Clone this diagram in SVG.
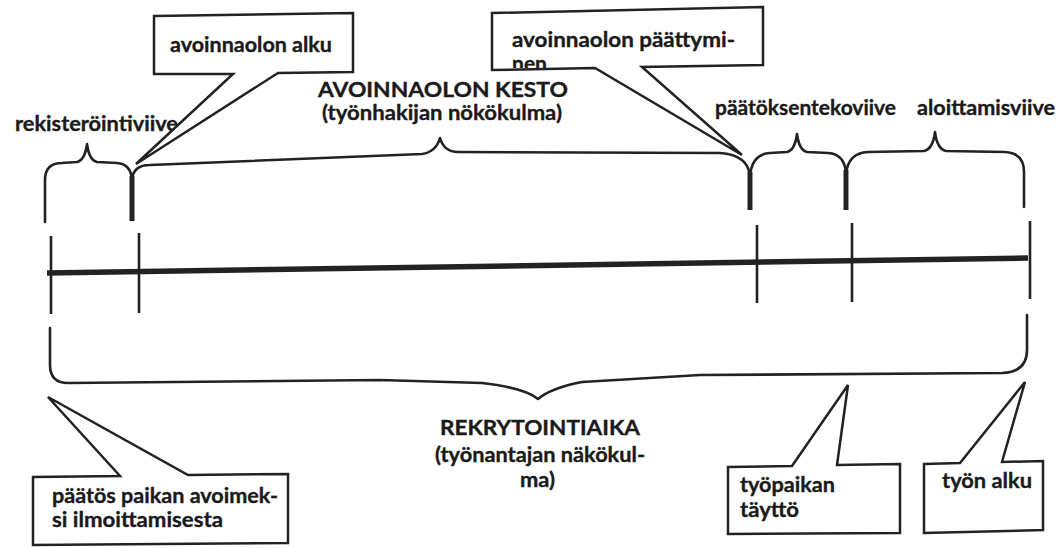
<svg xmlns="http://www.w3.org/2000/svg" width="1058" height="548" viewBox="0 0 1058 548">
<style>
  .t { font-family: Lato, "Open Sans", "Liberation Sans", sans-serif; font-weight: 700; font-size: 21px; fill: #1a1a1a; stroke: #1a1a1a; stroke-width: 0.35; }
  .box { fill: #ffffff; stroke: #222; stroke-width: 2.5; stroke-linejoin: miter; }
  .brace { fill: none; stroke: #222; stroke-width: 2.6; stroke-linecap: round; stroke-linejoin: round; }
  .leg { fill: none; stroke: #222; stroke-width: 5; stroke-linecap: butt; }
  .tick { fill: none; stroke: #222; stroke-width: 2.6; }
  .axis { fill: none; stroke: #222; stroke-width: 5.5; stroke-linecap: butt; }
</style>
<defs>
  <clipPath id="clipPaat"><rect x="492" y="8" width="271" height="60"/></clipPath>
</defs>
<rect width="1058" height="548" fill="#ffffff"/>

<g id="connectors">
  <line class="axis" x1="47" y1="273" x2="1028" y2="258"/>
  <line class="tick" x1="51" y1="236" x2="51" y2="314"/>
  <line class="tick" x1="139" y1="233" x2="139" y2="313"/>
  <line class="tick" x1="757" y1="225" x2="757" y2="303"/>
  <line class="tick" x1="852" y1="223" x2="852" y2="302"/>
  <line class="tick" x1="1030" y1="221" x2="1030" y2="299"/>
  <path class="brace" d="M45,222 L45,180 Q45,163 62,163 L77,162 Q85,160 87,144 Q89,160 97,162 L117,163 Q131,164 132,180"/>
  <path class="brace" d="M132,180 Q133,165 150,165 L422,154 Q436,152 440,138 Q444,152 458,152 L720,153 Q748,155 750,176"/>
  <path class="brace" d="M750,176 Q752,154 770,153 L787,152 Q795,150 797,134 Q799,150 807,152 L828,153 Q845,154 846,174"/>
  <path class="brace" d="M846,174 Q848,153 868,152 L924,151 Q933,149 935,132 Q937,149 946,151 L1005,152 Q1024,153 1024,172 L1024,207"/>
  <line class="leg" x1="132" y1="176" x2="132" y2="221"/>
  <line class="leg" x1="750" y1="172" x2="750" y2="210"/>
  <line class="leg" x1="846" y1="170" x2="846" y2="210"/>
  <path class="brace" d="M50,328 L50,365 Q50,383 68,383 L380,380 L482,383 Q525,388 538,399 Q551,388 582,382 L700,375 L1002,373 Q1027,372 1027,350 L1027,315"/>
</g>

<g id="label-avoinnaolon-kesto">
  <text class="t" x="318" y="97" textLength="250" lengthAdjust="spacingAndGlyphs">AVOINNAOLON KESTO</text>
  <text class="t" x="322" y="120" textLength="240" lengthAdjust="spacingAndGlyphs">(työnhakijan nökökulma)</text>
</g>
<g id="label-rekisterointiviive">
  <text class="t" x="15" y="131" textLength="163" lengthAdjust="spacingAndGlyphs">rekisteröintiviive</text>
</g>
<g id="label-paatoksentekoviive">
  <text class="t" x="715" y="115" textLength="181" lengthAdjust="spacingAndGlyphs">päätöksentekoviive</text>
</g>
<g id="label-aloittamisviive">
  <text class="t" x="917" y="115" textLength="138" lengthAdjust="spacingAndGlyphs">aloittamisviive</text>
</g>
<g id="label-rekrytointiaika">
  <text class="t" x="440" y="435" textLength="200" lengthAdjust="spacingAndGlyphs">REKRYTOINTIAIKA</text>
  <text class="t" x="435" y="462" textLength="210" lengthAdjust="spacingAndGlyphs">(työnantajan näkökul-</text>
  <text class="t" x="520" y="487" textLength="35" lengthAdjust="spacingAndGlyphs">ma)</text>
</g>

<g id="callout-avoinnaolon-alku">
  <path class="box" d="M154,16 L353,13 L353,72 L278,73 L136,164 L233,74 L154,74 Z"/>
  <text class="t" x="170" y="52" textLength="162" lengthAdjust="spacingAndGlyphs">avoinnaolon alku</text>
</g>
<g id="callout-avoinnaolon-paattyminen">
  <path class="box" d="M492,13 L763,7 L763,65 L642,67 L742,155 L595,68 L492,70 Z"/>
  <text class="t" x="512" y="47" textLength="223" lengthAdjust="spacingAndGlyphs">avoinnaolon päättymi-</text>
  <text class="t" x="512" y="71" textLength="35" lengthAdjust="spacingAndGlyphs" clip-path="url(#clipPaat)">nen</text>
</g>
<g id="callout-paatos">
  <path class="box" d="M33,477 L120,476 L48,397 L188,475 L288,474 L288,543 L33,545 Z"/>
  <text class="t" x="52" y="503" textLength="226" lengthAdjust="spacingAndGlyphs">päätös paikan avoimek-</text>
  <text class="t" x="52" y="527" textLength="171" lengthAdjust="spacingAndGlyphs">si ilmoittamisesta</text>
</g>
<g id="callout-tyopaikan-taytto">
  <path class="box" d="M728,467 L792,466 L848,385 L837,465 L900,464 L900,533 L728,534 Z"/>
  <text class="t" x="740" y="492" textLength="95" lengthAdjust="spacingAndGlyphs">työpaikan</text>
  <text class="t" x="740" y="517" textLength="59" lengthAdjust="spacingAndGlyphs">täyttö</text>
</g>
<g id="callout-tyon-alku">
  <path class="box" d="M924,464 L960,463 L1025,382 L1002,462 L1043,461 L1043,530 L924,533 Z"/>
  <text class="t" x="942" y="488" textLength="90" lengthAdjust="spacingAndGlyphs">työn alku</text>
</g>
</svg>
